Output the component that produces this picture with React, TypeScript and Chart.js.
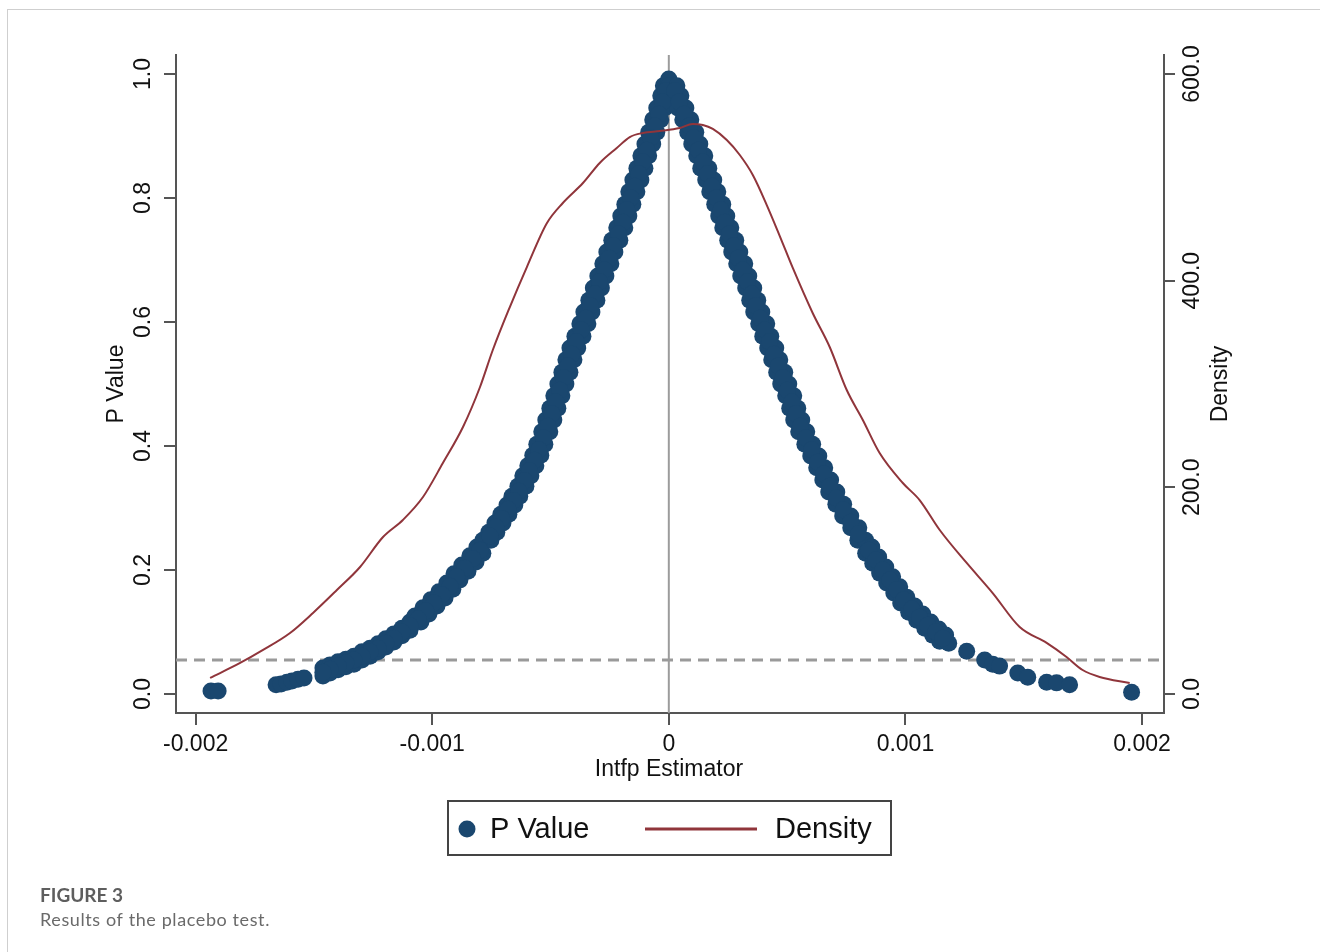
import React, { useEffect, useRef } from 'react';
import { Chart, registerables } from 'chart.js';

Chart.register(...registerables);

// ---------- axis ticks ----------
const xTickValues = [-0.002, -0.001, 0, 0.001, 0.002];
const xTickLabels = ['-0.002', '-0.001', '0', '0.001', '0.002'];
const pTickValues = [0, 0.2, 0.4, 0.6, 0.8, 1.0];
const pTickLabels = ['0.0', '0.2', '0.4', '0.6', '0.8', '1.0'];
const densityTickValues = [0, 200, 400, 600];
const densityTickLabels = ['0.0', '200.0', '400.0', '600.0'];

const xRange = [-0.002083, 0.002093];
const pRange = [-0.0306, 1.0306];
const densityRange = [-18.4, 618.4];

const zeroLineX = 0;
const pThreshold = 0.055;

// ---------- P value scatter (placebo estimates): band edges and tails ----------
const pvEstimate = [
  -1.935e-3, -1.905e-3,
  -1.660e-3, -1.639e-3, -1.614e-3, -1.593e-3, -1.567e-3, -1.542e-3,
  -1.462e-3, -1.462e-3, -1.432e-3, -1.432e-3, -1.398e-3, -1.398e-3, -1.365e-3, -1.365e-3,
  -1.331e-3, -1.331e-3, -1.297e-3, -1.297e-3, -1.263e-3, -1.263e-3, -1.229e-3, -1.229e-3,
  -1.196e-3, -1.196e-3, -1.162e-3, -1.162e-3, -1.128e-3, -1.128e-3, -1.094e-3, -1.094e-3,
  -1.073e-3, -1.048e-3, -1.039e-3, -1.014e-3, -1.006e-3, -0.980e-3, -0.972e-3, -0.946e-3,
  -0.938e-3, -0.913e-3, -0.908e-3, -0.883e-3, -0.875e-3, -0.849e-3, -0.841e-3, -0.815e-3,
  -0.811e-3, -0.786e-3,
  -0.786e-3, -0.752e-3, -0.761e-3, -0.727e-3, -0.735e-3, -0.701e-3, -0.710e-3, -0.676e-3,
  -0.684e-3, -0.651e-3, -0.663e-3, -0.630e-3, -0.638e-3, -0.604e-3, -0.617e-3, -0.583e-3,
  -0.596e-3, -0.562e-3, -0.575e-3, -0.541e-3, -0.558e-3, -0.524e-3, -0.537e-3, -0.503e-3,
  -0.520e-3, -0.486e-3, -0.503e-3, -0.469e-3, -0.486e-3, -0.452e-3, -0.469e-3, -0.435e-3,
  -0.452e-3, -0.418e-3, -0.435e-3, -0.401e-3, -0.418e-3, -0.385e-3, -0.397e-3, -0.363e-3,
  -0.376e-3, -0.342e-3, -0.359e-3, -0.325e-3, -0.338e-3, -0.304e-3, -0.319e-3, -0.285e-3,
  -0.300e-3, -0.266e-3, -0.279e-3, -0.245e-3, -0.262e-3, -0.228e-3, -0.241e-3, -0.207e-3,
  -0.220e-3, -0.186e-3, -0.203e-3, -0.169e-3, -0.186e-3, -0.152e-3, -0.169e-3, -0.135e-3,
  -0.152e-3, -0.118e-3, -0.135e-3, -0.101e-3, -0.118e-3, -0.085e-3, -0.101e-3, -0.068e-3,
  -0.085e-3, -0.051e-3, -0.068e-3, -0.034e-3, -0.051e-3, -0.017e-3, -0.034e-3, 0.000e-3,
  -0.023e-3, 0.011e-3,
  0.000e-3,
  0.000e-3, 0.034e-3, 0.017e-3, 0.051e-3, 0.038e-3, 0.072e-3, 0.059e-3, 0.093e-3,
  0.080e-3, 0.114e-3, 0.097e-3, 0.131e-3, 0.118e-3, 0.152e-3, 0.135e-3, 0.169e-3,
  0.156e-3, 0.190e-3, 0.173e-3, 0.207e-3, 0.194e-3, 0.228e-3, 0.211e-3, 0.245e-3,
  0.228e-3, 0.262e-3, 0.249e-3, 0.283e-3, 0.266e-3, 0.300e-3, 0.287e-3, 0.321e-3,
  0.304e-3, 0.338e-3, 0.325e-3, 0.359e-3, 0.342e-3, 0.376e-3, 0.359e-3, 0.393e-3,
  0.380e-3, 0.414e-3, 0.397e-3, 0.431e-3, 0.418e-3, 0.452e-3, 0.435e-3, 0.469e-3,
  0.456e-3, 0.490e-3, 0.473e-3, 0.507e-3, 0.494e-3, 0.528e-3, 0.511e-3, 0.545e-3,
  0.528e-3, 0.562e-3, 0.549e-3, 0.583e-3, 0.575e-3, 0.608e-3, 0.600e-3, 0.634e-3,
  0.625e-3, 0.659e-3, 0.651e-3, 0.684e-3, 0.676e-3, 0.710e-3, 0.706e-3, 0.739e-3,
  0.735e-3, 0.769e-3, 0.769e-3, 0.803e-3, 0.799e-3, 0.832e-3,
  0.858e-3, 0.832e-3, 0.887e-3, 0.862e-3, 0.917e-3, 0.891e-3, 0.946e-3, 0.921e-3,
  0.976e-3, 0.951e-3, 1.006e-3, 0.980e-3, 1.039e-3, 1.014e-3, 1.073e-3, 1.048e-3,
  1.107e-3, 1.082e-3, 1.141e-3, 1.115e-3, 1.170e-3, 1.145e-3, 1.183e-3,
  1.259e-3, 1.335e-3, 1.369e-3, 1.398e-3, 1.475e-3, 1.517e-3, 1.597e-3, 1.639e-3, 1.694e-3,
  1.956e-3,
];
const pvValue = [
  0.005, 0.005,
  0.015, 0.016, 0.019, 0.021, 0.024, 0.026,
  0.042, 0.029, 0.047, 0.034, 0.052, 0.039, 0.056, 0.044,
  0.061, 0.048, 0.068, 0.055, 0.074, 0.061, 0.081, 0.068,
  0.089, 0.076, 0.097, 0.084, 0.106, 0.094, 0.116, 0.103,
  0.126, 0.116, 0.139, 0.129, 0.152, 0.142, 0.165, 0.155,
  0.179, 0.169, 0.194, 0.184, 0.208, 0.198, 0.223, 0.213,
  0.237, 0.227,
  0.248, 0.248, 0.261, 0.261, 0.276, 0.276, 0.290, 0.290,
  0.305, 0.305, 0.319, 0.319, 0.335, 0.335, 0.352, 0.352,
  0.368, 0.368, 0.385, 0.385, 0.403, 0.403, 0.423, 0.423,
  0.442, 0.442, 0.461, 0.461, 0.481, 0.481, 0.500, 0.500,
  0.519, 0.519, 0.539, 0.539, 0.558, 0.558, 0.577, 0.577,
  0.597, 0.597, 0.616, 0.616, 0.635, 0.635, 0.655, 0.655,
  0.674, 0.674, 0.694, 0.694, 0.713, 0.713, 0.732, 0.732,
  0.752, 0.752, 0.771, 0.771, 0.790, 0.790, 0.810, 0.810,
  0.829, 0.829, 0.848, 0.848, 0.868, 0.868, 0.887, 0.887,
  0.906, 0.906, 0.926, 0.926, 0.945, 0.945, 0.965, 0.965,
  0.981, 0.981,
  0.992,
  0.981, 0.981, 0.965, 0.965, 0.945, 0.945, 0.926, 0.926,
  0.906, 0.906, 0.887, 0.887, 0.868, 0.868, 0.848, 0.848,
  0.829, 0.829, 0.810, 0.810, 0.790, 0.790, 0.771, 0.771,
  0.752, 0.752, 0.732, 0.732, 0.713, 0.713, 0.694, 0.694,
  0.674, 0.674, 0.655, 0.655, 0.635, 0.635, 0.616, 0.616,
  0.597, 0.597, 0.577, 0.577, 0.558, 0.558, 0.539, 0.539,
  0.519, 0.519, 0.500, 0.500, 0.481, 0.481, 0.461, 0.461,
  0.442, 0.442, 0.423, 0.423, 0.403, 0.403, 0.384, 0.384,
  0.365, 0.365, 0.345, 0.345, 0.326, 0.326, 0.306, 0.306,
  0.287, 0.287, 0.268, 0.268, 0.248, 0.248,
  0.237, 0.227, 0.221, 0.211, 0.205, 0.195, 0.189, 0.179,
  0.173, 0.163, 0.156, 0.147, 0.142, 0.132, 0.129, 0.119,
  0.116, 0.106, 0.105, 0.095, 0.095, 0.085, 0.082,
  0.069, 0.055, 0.048, 0.045, 0.034, 0.027, 0.019, 0.018, 0.015,
  0.003,
];

// ---------- P value scatter: estimates in the middle of the band ----------
const pvBandEstimate = [
  -0.013e-3, -0.025e-3, -0.042e-3, -0.059e-3, -0.076e-3, -0.093e-3, -0.110e-3, -0.127e-3,
  -0.144e-3, -0.161e-3, -0.177e-3, -0.194e-3, -0.213e-3, -0.234e-3, -0.253e-3, -0.272e-3,
  -0.293e-3, -0.312e-3, -0.332e-3, -0.351e-3, -0.370e-3, -0.391e-3, -0.410e-3, -0.427e-3,
  -0.444e-3, -0.461e-3, -0.477e-3, -0.494e-3, -0.511e-3, -0.530e-3, -0.549e-3, -0.568e-3,
  -0.589e-3, -0.610e-3, -0.634e-3, -0.657e-3, -0.680e-3, -0.706e-3, -0.731e-3, -0.756e-3,
  -0.798e-3, -0.828e-3, -0.862e-3, -0.896e-3, -0.925e-3, -0.959e-3, -0.993e-3, -1.027e-3,
  -1.060e-3,
  -1.094e-3, -1.128e-3, -1.162e-3, -1.196e-3, -1.229e-3, -1.263e-3, -1.297e-3, -1.331e-3,
  -1.365e-3, -1.398e-3, -1.432e-3, -1.462e-3,
  0.025e-3, 0.044e-3, 0.065e-3, 0.087e-3, 0.106e-3, 0.125e-3, 0.144e-3, 0.163e-3,
  0.182e-3, 0.201e-3, 0.220e-3, 0.237e-3, 0.256e-3, 0.275e-3, 0.294e-3, 0.313e-3,
  0.332e-3, 0.351e-3, 0.368e-3, 0.387e-3, 0.406e-3, 0.425e-3, 0.444e-3, 0.463e-3,
  0.482e-3, 0.501e-3, 0.520e-3, 0.537e-3, 0.556e-3, 0.579e-3, 0.604e-3, 0.629e-3,
  0.655e-3, 0.680e-3, 0.708e-3, 0.737e-3, 0.769e-3, 0.801e-3,
  0.845e-3, 0.875e-3, 0.904e-3, 0.934e-3, 0.963e-3, 0.993e-3, 1.027e-3, 1.060e-3,
  1.094e-3, 1.128e-3, 1.158e-3,
];
const pvBandValue = [
  0.973, 0.955, 0.935, 0.916, 0.897, 0.877, 0.858, 0.839,
  0.819, 0.800, 0.781, 0.761, 0.742, 0.723, 0.703, 0.684,
  0.665, 0.645, 0.626, 0.606, 0.587, 0.568, 0.548, 0.529,
  0.510, 0.490, 0.471, 0.452, 0.432, 0.413, 0.394, 0.377,
  0.360, 0.344, 0.327, 0.312, 0.298, 0.283, 0.269, 0.255,
  0.232, 0.218, 0.203, 0.189, 0.174, 0.160, 0.147, 0.134,
  0.121,
  0.110, 0.100, 0.090, 0.082, 0.074, 0.068, 0.061, 0.055,
  0.050, 0.045, 0.040, 0.035,
  0.973, 0.955, 0.935, 0.916, 0.897, 0.877, 0.858, 0.839,
  0.819, 0.800, 0.781, 0.761, 0.742, 0.723, 0.703, 0.684,
  0.665, 0.645, 0.626, 0.606, 0.587, 0.568, 0.548, 0.529,
  0.510, 0.490, 0.471, 0.452, 0.432, 0.413, 0.394, 0.374,
  0.355, 0.335, 0.316, 0.297, 0.277, 0.258,
  0.232, 0.216, 0.200, 0.184, 0.168, 0.152, 0.137, 0.124,
  0.111, 0.100, 0.090,
];

// ---------- kernel density of the estimates ----------
const densityEstimate = [
  -1.939e-3, -1.812e-3, -1.715e-3, -1.601e-3, -1.504e-3, -1.403e-3, -1.305e-3, -1.208e-3,
  -1.124e-3, -1.039e-3, -0.955e-3, -0.870e-3, -0.798e-3, -0.744e-3, -0.672e-3, -0.600e-3,
  -0.515e-3, -0.448e-3, -0.363e-3, -0.292e-3, -0.220e-3, -0.165e-3, -0.110e-3, -0.038e-3,
  0.046e-3, 0.101e-3, 0.144e-3, 0.186e-3, 0.245e-3, 0.300e-3, 0.355e-3, 0.414e-3,
  0.469e-3, 0.524e-3, 0.608e-3, 0.680e-3, 0.752e-3, 0.820e-3, 0.891e-3, 0.989e-3,
  1.060e-3, 1.145e-3, 1.259e-3, 1.369e-3, 1.483e-3, 1.597e-3, 1.681e-3, 1.749e-3,
  1.821e-3, 1.948e-3,
];
const densityValue = [
  15.5, 30.0, 42.6, 59.0, 78.4, 100.6, 122.9, 151.9,
  168.4, 190.6, 223.5, 258.4, 297.1, 332.9, 374.5, 413.2,
  455.8, 475.2, 494.5, 513.9, 528.4, 539.0, 542.9, 544.8,
  547.7, 551.6, 550.6, 546.8, 536.1, 521.6, 502.3, 473.2,
  443.2, 412.3, 368.7, 335.8, 294.2, 265.2, 233.2, 204.2,
  187.7, 158.7, 126.8, 97.7, 64.8, 49.4, 35.8, 23.2,
  16.5, 10.6,
];

const NAVY = '#1a476f';
const MAROON = '#90353b';
const AXIS = '#555555';
const TICK_FONT = '23px "Liberation Sans", Arial, Helvetica, sans-serif';

const labelPlugin = {
  id: 'stataLabels',
  afterDraw(chart: any) {
    const ctx = chart.ctx as CanvasRenderingContext2D;
    const xs = chart.scales.x;
    const ys = chart.scales.y;
    const y1 = chart.scales.y1;
    const area = chart.chartArea;
    ctx.save();
    ctx.fillStyle = '#111111';
    ctx.font = TICK_FONT;
    ctx.textAlign = 'center';
    ctx.textBaseline = 'middle';

    xTickValues.forEach((v, i) => {
      ctx.fillText(xTickLabels[i], xs.getPixelForValue(v), area.bottom + 32);
    });
    ctx.fillText('Intfp Estimator', (area.left + area.right) / 2 - 1, area.bottom + 57);

    pTickValues.forEach((v, i) => {
      ctx.save();
      ctx.translate(area.left - 32, ys.getPixelForValue(v));
      ctx.rotate(-Math.PI / 2);
      ctx.fillText(pTickLabels[i], 0, 0);
      ctx.restore();
    });
    densityTickValues.forEach((v, i) => {
      ctx.save();
      ctx.translate(area.right + 29, y1.getPixelForValue(v));
      ctx.rotate(-Math.PI / 2);
      ctx.fillText(densityTickLabels[i], 0, 0);
      ctx.restore();
    });
    const midY = (area.top + area.bottom) / 2;
    ctx.save();
    ctx.translate(area.left - 59, midY);
    ctx.rotate(-Math.PI / 2);
    ctx.fillText('P Value', 0, 0);
    ctx.restore();
    ctx.save();
    ctx.translate(area.right + 57, midY);
    ctx.rotate(-Math.PI / 2);
    ctx.fillText('Density', 0, 0);
    ctx.restore();

    // legend
    const lx = 448, ly = 801, lw = 443, lh = 54;
    ctx.strokeStyle = '#444444';
    ctx.lineWidth = 2;
    ctx.strokeRect(lx, ly, lw, lh);
    const cy = ly + lh / 2 + 1;
    ctx.fillStyle = NAVY;
    ctx.beginPath();
    ctx.arc(lx + 19, cy, 8.5, 0, Math.PI * 2);
    ctx.fill();
    ctx.strokeStyle = MAROON;
    ctx.lineWidth = 3;
    ctx.beginPath();
    ctx.moveTo(lx + 197, cy);
    ctx.lineTo(lx + 309, cy);
    ctx.stroke();
    ctx.fillStyle = '#111111';
    ctx.font = '29px "Liberation Sans", Arial, Helvetica, sans-serif';
    ctx.textAlign = 'left';
    ctx.fillText('P Value', lx + 42, cy + 1);
    ctx.fillText('Density', lx + 327, cy + 1);

    // caption
    ctx.textBaseline = 'alphabetic';
    ctx.fillStyle = '#5e5e5e';
    ctx.font = 'bold 19px Lato, "Open Sans", sans-serif';
    ctx.fillText('FIGURE 3', 40, 902);
    ctx.fillStyle = '#6a6a6a';
    ctx.font = '18px Lato, "Open Sans", sans-serif';
    (ctx as any).letterSpacing = '0.6px';
    ctx.fillText('Results of the placebo test.', 40, 926);
    (ctx as any).letterSpacing = '0px';
    ctx.restore();
  },
};

export default function App() {
  const canvasRef = useRef<HTMLCanvasElement | null>(null);

  useEffect(() => {
    const canvas = canvasRef.current;
    if (!canvas) return;
    const pvPoints = pvEstimate
      .map((x, i) => ({ x, y: pvValue[i] }))
      .concat(pvBandEstimate.map((x, i) => ({ x, y: pvBandValue[i] })));
    const chart = new Chart(canvas, {
      type: 'scatter',
      data: {
        datasets: [
          {
            type: 'line',
            label: 'Density',
            data: densityEstimate.map((x, i) => ({ x, y: densityValue[i] })),
            yAxisID: 'y1',
            borderColor: MAROON,
            borderWidth: 2,
            pointRadius: 0,
            fill: false,
            cubicInterpolationMode: 'monotone',
            order: 0,
          } as any,
          {
            type: 'scatter',
            label: 'P Value',
            data: pvPoints,
            yAxisID: 'y',
            backgroundColor: NAVY,
            borderColor: NAVY,
            borderWidth: 0,
            pointBackgroundColor: NAVY,
            pointBorderColor: NAVY,
            pointBorderWidth: 0,
            pointRadius: 8.5,
            order: 1,
          } as any,
          {
            type: 'line',
            label: 'zero',
            data: [
              { x: zeroLineX, y: pRange[0] },
              { x: zeroLineX, y: pRange[1] },
            ],
            yAxisID: 'y',
            borderColor: '#9c9c9c',
            borderWidth: 2,
            pointRadius: 0,
            fill: false,
            order: 2,
          } as any,
          {
            type: 'line',
            label: 'threshold',
            data: [
              { x: xRange[0], y: pThreshold },
              { x: xRange[1], y: pThreshold },
            ],
            yAxisID: 'y',
            borderColor: '#9a9a9a',
            borderWidth: 3,
            borderDash: [11, 7],
            pointRadius: 0,
            fill: false,
            order: 3,
          } as any,
        ],
      },
      options: {
        responsive: false,
        animation: false,
        events: [],
        layout: { padding: { top: 55, left: 0, right: 0, bottom: 0 } },
        plugins: {
          legend: { display: false },
          tooltip: { enabled: false },
          title: { display: false },
        },
        scales: {
          x: {
            type: 'linear',
            position: 'bottom',
            min: xRange[0],
            max: xRange[1],
            afterBuildTicks: (s: any) => {
              s.ticks = xTickValues.map((value) => ({ value }));
            },
            afterFit: (s: any) => {
              s.height = 239;
            },
            ticks: { display: false },
            grid: { drawOnChartArea: false, drawTicks: true, tickLength: 12, color: AXIS, lineWidth: 2 },
            border: { display: true, color: AXIS, width: 2 },
          },
          y: {
            type: 'linear',
            position: 'left',
            min: pRange[0],
            max: pRange[1],
            afterBuildTicks: (s: any) => {
              s.ticks = pTickValues.map((value) => ({ value }));
            },
            afterFit: (s: any) => {
              s.width = 176;
            },
            ticks: { display: false },
            grid: { drawOnChartArea: false, drawTicks: true, tickLength: 12, color: AXIS, lineWidth: 2 },
            border: { display: true, color: AXIS, width: 2 },
          },
          y1: {
            type: 'linear',
            position: 'right',
            min: densityRange[0],
            max: densityRange[1],
            afterBuildTicks: (s: any) => {
              s.ticks = densityTickValues.map((value) => ({ value }));
            },
            afterFit: (s: any) => {
              s.width = 156;
            },
            ticks: { display: false },
            grid: { drawOnChartArea: false, drawTicks: true, tickLength: 11, color: AXIS, lineWidth: 2 },
            border: { display: true, color: AXIS, width: 2 },
          },
        },
      } as any,
      plugins: [labelPlugin],
    });
    return () => chart.destroy();
  }, []);

  return (
    <>
      <div
        style={{
          position: 'fixed',
          left: 7,
          top: 9,
          right: 0,
          bottom: 0,
          borderTop: '1px solid #cfcfcf',
          borderLeft: '1px solid #cfcfcf',
          boxSizing: 'border-box',
        }}
      />
      <canvas
        ref={canvasRef}
        width={1320}
        height={952}
        style={{ position: 'fixed', left: 0, top: 0, width: 1320, height: 952 }}
      />
    </>
  );
}
